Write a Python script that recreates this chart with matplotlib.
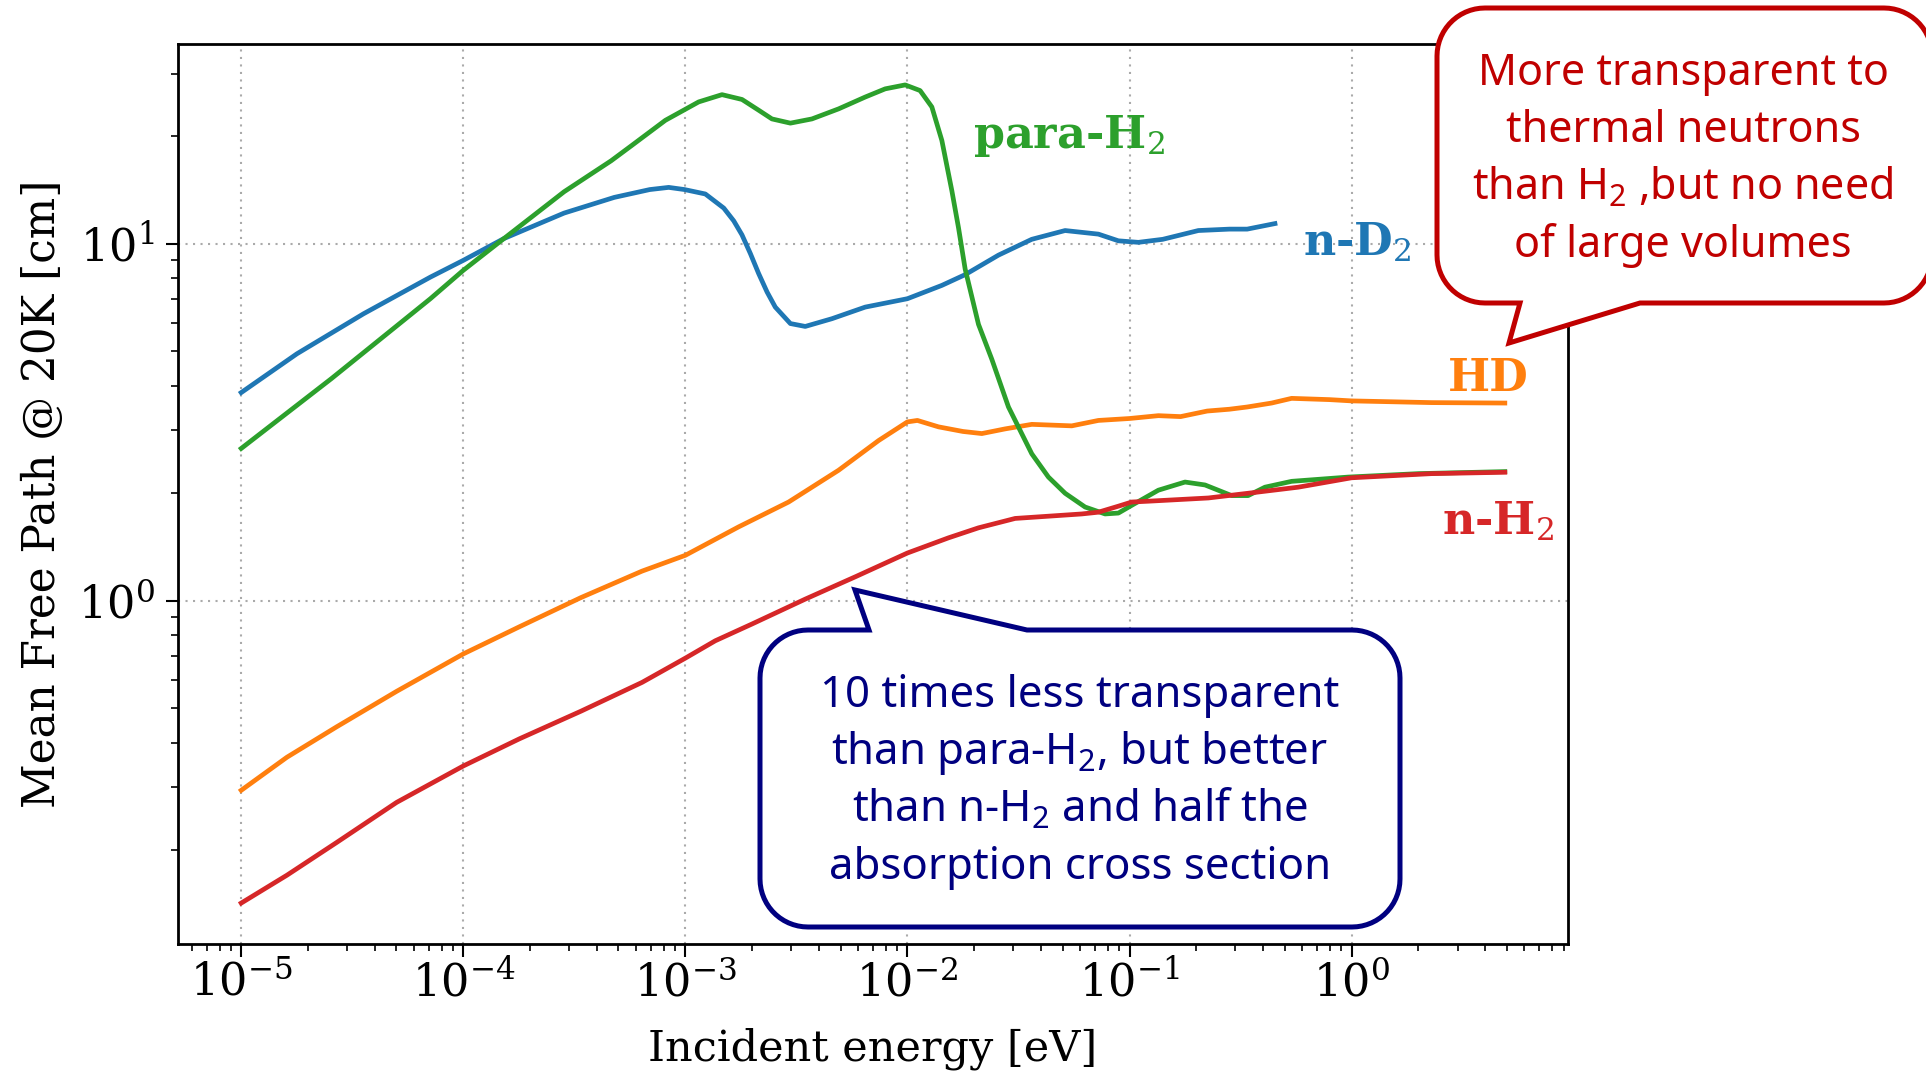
import numpy as np
import matplotlib
matplotlib.use('Agg')
from matplotlib import pyplot as plt
from matplotlib.patches import Polygon

# log10(incident energy / eV) and mean free path [cm]
para_loge = [-5.0, -4.594, -4.148, -4.0, -3.817, -3.546, -3.334, -3.24, -3.09, -2.94,
             -2.835, -2.745, -2.67, -2.61, -2.527, -2.43, -2.31, -2.19, -2.10, -2.01,
             -1.943, -1.89, -1.845, -1.80, -1.77, -1.74, -1.68, -1.62, -1.545, -1.44,
             -1.365, -1.29, -1.2, -1.11, -1.05, -0.99, -0.87, -0.75, -0.66, -0.54,
             -0.466, -0.39, -0.27, -0.016, 0.30, 0.69]
para_mfp = [2.67, 4.19, 7.02, 8.43, 10.35, 14.0, 17.1, 18.9, 22.2, 25.0,
            26.2, 25.4, 23.7, 22.4, 21.8, 22.4, 23.9, 25.8, 27.2, 27.9,
            26.9, 24.2, 19.5, 14.1, 11.1, 8.5, 5.95, 4.75, 3.49, 2.58,
            2.22, 2.0, 1.83, 1.75, 1.76, 1.85, 2.04, 2.15, 2.11, 1.97,
            1.97, 2.08, 2.16, 2.22, 2.27, 2.30]

nd2_loge = [-5.0, -4.749, -4.449, -4.148, -4.0, -3.817, -3.546, -3.32, -3.16, -3.075,
            -3.004, -2.91, -2.827, -2.782, -2.745, -2.707, -2.67, -2.632, -2.595, -2.527,
            -2.46, -2.34, -2.19, -2.0, -1.845, -1.74, -1.59, -1.44, -1.29, -1.14,
            -1.05, -0.96, -0.85, -0.69, -0.55, -0.47, -0.345]
nd2_mfp = [3.83, 4.92, 6.37, 8.07, 8.99, 10.35, 12.2, 13.5, 14.2, 14.4,
           14.2, 13.8, 12.6, 11.6, 10.6, 9.39, 8.26, 7.33, 6.65, 5.98,
           5.87, 6.17, 6.65, 7.02, 7.65, 8.2, 9.3, 10.3, 10.9, 10.65,
           10.2, 10.1, 10.3, 10.9, 11.0, 11.0, 11.4]

hd_loge = [-5.0, -4.794, -4.57, -4.30, -4.0, -3.747, -3.47, -3.195, -3.0, -2.76,
           -2.535, -2.31, -2.13, -2.0, -1.955, -1.86, -1.75, -1.665, -1.56, -1.44,
           -1.26, -1.14, -1.0, -0.87, -0.77, -0.65, -0.55, -0.47, -0.36, -0.27,
           -0.1, 0.0, 0.36, 0.69]
hd_mfp = [0.294, 0.364, 0.443, 0.557, 0.709, 0.845, 1.02, 1.21, 1.34, 1.61,
          1.89, 2.32, 2.81, 3.17, 3.20, 3.07, 2.98, 2.94, 3.03, 3.12,
          3.09, 3.20, 3.24, 3.30, 3.28, 3.40, 3.44, 3.49, 3.58, 3.69,
          3.66, 3.63, 3.59, 3.58]

nh2_loge = [-5.0, -4.794, -4.57, -4.30, -4.0, -3.747, -3.47, -3.195, -3.0, -2.865,
            -2.70, -2.46, -2.23, -2.0, -1.815, -1.68, -1.515, -1.215, -1.14, -1.05,
            -0.99, -0.915, -0.645, -0.466, -0.24, 0.0, 0.36, 0.69]
nh2_mfp = [0.142, 0.170, 0.210, 0.272, 0.344, 0.410, 0.49, 0.59, 0.69, 0.772,
           0.86, 1.01, 1.17, 1.36, 1.50, 1.60, 1.70, 1.75, 1.77, 1.84,
           1.89, 1.90, 1.94, 2.0, 2.08, 2.21, 2.27, 2.29]

series = [
    ('n-D$_2$', nd2_loge, nd2_mfp, 'tab:blue', (0.605, 9.30)),
    ('HD', hd_loge, hd_mfp, 'tab:orange', (2.72, 3.86)),
    ('para-H$_2$', para_loge, para_mfp, 'tab:green', (0.0198, 18.6)),
    ('n-H$_2$', nh2_loge, nh2_mfp, 'tab:red', (2.55, 1.535)),
]

red_note = ['More transparent to', 'thermal neutrons',
            'than H$_2$ ,but no need', 'of large volumes']
blue_note = ['10 times less transparent', 'than para-H$_2$, but better',
             'than n-H$_2$ and half the', 'absorption cross section']

plt.rcParams['font.family'] = 'DejaVu Serif'
plt.rcParams['mathtext.fontset'] = 'dejavuserif'
plt.rcParams['mathtext.rm'] = 'Noto Sans'
plt.rcParams['mathtext.it'] = 'Noto Sans:italic'
plt.rcParams['mathtext.bf'] = 'Noto Sans:bold'

W, H = 1926, 1072
fig = plt.figure(figsize=(W / 100, H / 100), dpi=100)
ax = fig.add_axes([178 / W, 1 - 944 / H, (1568 - 178) / W, (944 - 44) / H])

for name, loge, mfp, color, pos in series:
    ax.plot(10.0 ** np.array(loge), mfp, color=color, lw=3.4)
    ax.text(pos[0], pos[1], name, color=color, fontsize=32, fontweight='bold',
            ha='left', va='baseline')

ax.set_xscale('log')
ax.set_yscale('log')
ax.set_xlabel('Incident energy [eV]', fontsize=31, labelpad=16)
ax.set_ylabel('Mean Free Path @ 20K [cm]', fontsize=31.5, labelpad=10)
ax.tick_params(which='major', labelsize=32, length=9, width=1.5)
ax.tick_params(which='minor', length=5, width=1.2)
ax.tick_params(axis='y', which='major', pad=8)
ax.grid(which='major', color='#aaaaaa', lw=1.5, linestyle=(0, (1, 2.6)))
for s in ax.spines.values():
    s.set_linewidth(2)


# overlay in pixel coordinates for the speech bubbles
ov = fig.add_axes([0, 0, 1, 1], zorder=10)
ov.set_xlim(0, W)
ov.set_ylim(H, 0)
ov.axis('off')
ov.patch.set_alpha(0)


def bubble(left, top, right, bottom, r, side, xa, xb, tip, color):
    def arc(cx, cy, a0, a1):
        t = np.radians(np.linspace(a0, a1, 16))
        return list(zip(cx + r * np.cos(t), cy + r * np.sin(t)))
    pts = [(left + r, top)]
    if side == 'top':
        pts += [(xa, top), tip, (xb, top)]
    pts += [(right - r, top)] + arc(right - r, top + r, -90, 0)
    pts += [(right, bottom - r)] + arc(right - r, bottom - r, 0, 90)
    if side == 'bottom':
        pts += [(xb, bottom), tip, (xa, bottom)]
    pts += [(left + r, bottom)] + arc(left + r, bottom - r, 90, 180)
    pts += [(left, top + r)] + arc(left + r, top + r, 180, 270)
    ov.add_patch(Polygon(pts, closed=True, facecolor='white', edgecolor=color,
                         lw=3.6, joinstyle='miter'))


bubble(1437, 8, 1932, 303, 48, 'bottom', 1520, 1640, (1509, 343), '#C00000')
bubble(760, 630, 1400, 927, 48, 'top', 869, 1027, (855, 590), '#000080')

for i, line in enumerate(red_note):
    ov.text(1683, 85 + 57.5 * i, line, color='#C00000', fontsize=31,
            family='Noto Sans', math_fontfamily='custom',
            ha='center', va='baseline')
for i, line in enumerate(blue_note):
    ov.text(1080, 707 + 57.3 * i, line, color='#000080', fontsize=31.5,
            family='Noto Sans', math_fontfamily='custom',
            ha='center', va='baseline')

fig.savefig('out.png', dpi=100)
